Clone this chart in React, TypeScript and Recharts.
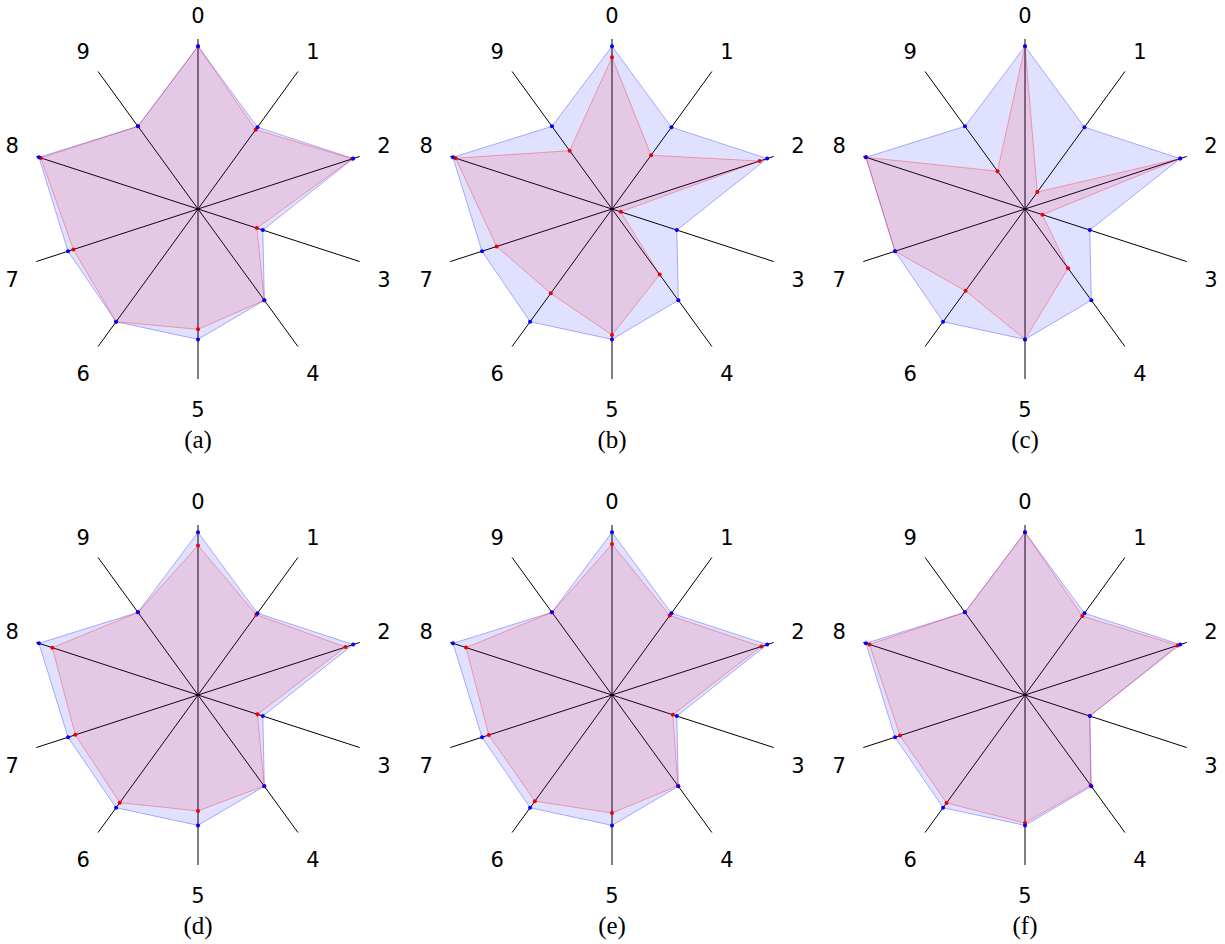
import React from 'react';
import { RadarChart, Radar, PolarGrid, PolarAngleAxis, PolarRadiusAxis } from 'recharts';

// spoke names, clockwise from the top
const axes = ['0', '1', '2', '3', '4', '5', '6', '7', '8', '9'];

// blue reference profile, the same in every panel
const reference = [0.957, 0.595, 0.96, 0.401, 0.664, 0.767, 0.82, 0.804, 0.984, 0.601];

// red profile for each panel
const panelA = [0.957, 0.577, 0.955, 0.364, 0.664, 0.708, 0.82, 0.771, 0.972, 0.601];
const panelB = [0.892, 0.391, 0.913, 0.054, 0.477, 0.741, 0.613, 0.714, 0.967, 0.424];
const panelC = [0.957, 0.123, 0.96, 0.108, 0.431, 0.767, 0.595, 0.804, 0.984, 0.275];
const panelD = [0.88, 0.584, 0.913, 0.368, 0.662, 0.682, 0.783, 0.759, 0.901, 0.601];
const panelE = [0.888, 0.578, 0.923, 0.376, 0.66, 0.694, 0.772, 0.762, 0.903, 0.601];
const panelF = [0.957, 0.574, 0.944, 0.401, 0.657, 0.753, 0.785, 0.773, 0.962, 0.601];

const captions = ['(a)', '(b)', '(c)', '(d)', '(e)', '(f)'];
const profiles = [panelA, panelB, panelC, panelD, panelE, panelF];

const CHART_W = 412;
const CHART_H = 470;
const CX = 206;
const CY = 215;
const OUTER = 170;

const colX = [198.3, 611.7, 1025.3];
const rowY = [209.3, 695];

function AxisLabel(props: any) {
  const { payload } = props;
  const i = axes.indexOf(String(payload.value));
  const t = (i * 36 * Math.PI) / 180;
  const s = Math.sin(t);
  const c = Math.cos(t);
  const x = CX + 195.5 * s;
  const y = CY - 196.75 * c + 3.2 - Math.sign(c) * 7.4 * Math.pow(Math.abs(s), 2.6);
  return (
    <text x={x} y={y + 7.6} textAnchor="middle" fontFamily="DejaVu Sans" fontSize={21} fill="#000">
      {payload.value}
    </text>
  );
}

const blueDot = (p: any) => <circle key={`b${p.index}`} cx={p.cx} cy={p.cy} r={2} fill="#0000ff" stroke="none" />;
const redDot = (p: any) => <circle key={`r${p.index}`} cx={p.cx} cy={p.cy} r={2} fill="#ee0000" stroke="none" />;

function Panel({ values, caption, left, top }: { values: number[]; caption: string; left: number; top: number }) {
  const data = axes.map((axis, i) => ({ axis, reference: reference[i], value: values[i] }));
  return (
    <div style={{ position: 'absolute', left, top, width: CHART_W, height: CHART_H }}>
      <RadarChart
        width={CHART_W}
        height={CHART_H}
        data={data}
        cx={CX}
        cy={CY}
        outerRadius={OUTER}
        margin={{ top: 0, right: 0, bottom: 0, left: 0 }}
      >
        <PolarGrid gridType="polygon" polarRadius={[]} stroke="#000" strokeWidth={1} />
        <PolarAngleAxis dataKey="axis" tick={AxisLabel} tickLine={false} axisLine={false} />
        <PolarRadiusAxis domain={[0, 1]} tick={false} axisLine={false} />
        <Radar
          dataKey="reference"
          fill="#0000ff"
          fillOpacity={0.12}
          stroke="#0000ff"
          strokeOpacity={0.3}
          strokeWidth={1}
          dot={false}
          isAnimationActive={false}
        />
        <Radar
          dataKey="value"
          fill="#ff0000"
          fillOpacity={0.1}
          stroke="#ff0000"
          strokeOpacity={0.3}
          strokeWidth={1}
          dot={redDot}
          isAnimationActive={false}
        />
        <Radar dataKey="reference" fill="none" stroke="none" dot={blueDot} isAnimationActive={false} />
      </RadarChart>
      <svg
        width={CHART_W}
        height={CHART_H}
        style={{ position: 'absolute', left: 0, top: 0, pointerEvents: 'none' }}
      >
        <text x={CX} y={CY + 238.5} textAnchor="middle" fontFamily="Liberation Serif" fontSize={25} fill="#000">
          {caption}
        </text>
      </svg>
    </div>
  );
}

export default function App() {
  return (
    <div style={{ position: 'absolute', left: 0, top: 0, width: 1225, height: 944, background: '#fff', overflow: 'hidden' }}>
      {profiles.map((values, k) => (
        <Panel
          key={captions[k]}
          values={values}
          caption={captions[k]}
          left={colX[k % 3] - CX}
          top={rowY[Math.floor(k / 3)] - CY}
        />
      ))}
    </div>
  );
}
